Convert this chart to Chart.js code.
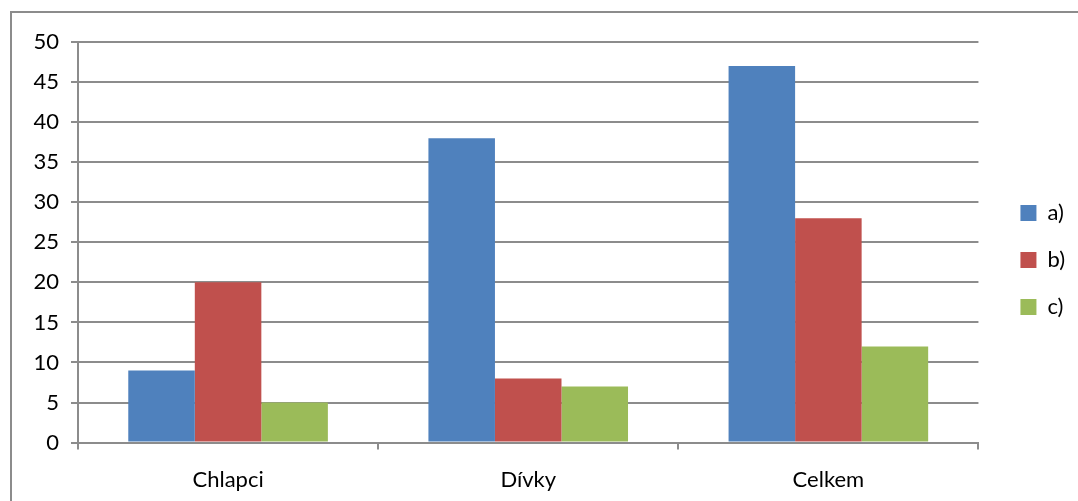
<!DOCTYPE html>
<html>
<head>
<meta charset="utf-8">
<script src="https://cdn.jsdelivr.net/npm/chart.js@4/dist/chart.umd.min.js"></script>
<style>
  html, body { margin: 0; padding: 0; background: #fff; overflow: hidden; }
  #wrap { position: relative; width: 1078px; height: 501px; }
  #frame {
    position: absolute; left: 10px; top: 11px; width: 1200px; height: 700px;
    border: 2px solid #8c8c8c; box-sizing: border-box;
  }
  canvas { position: absolute; left: 0; top: 0; }
</style>
</head>
<body>
<div id="wrap">
  <div id="frame"></div>
  <canvas id="chart" width="1078" height="501"></canvas>
</div>
<script>
// Values
const categories = ["Chlapci", "Dívky", "Celkem"];
const seriesNames = ["a)", "b)", "c)"];
const valuesA = [9, 38, 47];
const valuesB = [20, 8, 28];
const valuesC = [5, 7, 12];
const yTicks = [0, 5, 10, 15, 20, 25, 30, 35, 40, 45, 50];

const COLORS = {
  blue: "#4F81BD",
  red: "#C0504D",
  green: "#9BBB59",
  grid: "#8c8c8c",
  text: "#000000",
};

const FONT = { family: "Lato, 'Open Sans', sans-serif", size: 22 };

// nudge the legend: a bit further from the plot, a bit higher
const legendShift = {
  id: "legendShift",
  afterLayout(chart) {
    const l = chart.legend;
    if (!l) return;
    l.left += 17;
    l.right += 17;
    l.top -= 16;
    l.bottom -= 16;
  },
};

new Chart(document.getElementById("chart"), {
  type: "bar",
  data: {
    labels: categories,
    datasets: [
      { label: seriesNames[0], data: valuesA, backgroundColor: COLORS.blue },
      { label: seriesNames[1], data: valuesB, backgroundColor: COLORS.red },
      { label: seriesNames[2], data: valuesC, backgroundColor: COLORS.green },
    ],
  },
  plugins: [legendShift],
  options: {
    responsive: false,
    animation: false,
    layout: { padding: { left: 20, top: 42, right: 20, bottom: -9 } },
    datasets: {
      bar: { categoryPercentage: 0.665, barPercentage: 1, borderWidth: 0 },
    },
    scales: {
      x: {
        offset: true,
        grid: {
          offset: true,
          drawOnChartArea: false,
          drawTicks: true,
          tickLength: 7,
          color: COLORS.grid,
          lineWidth: 2,
        },
        border: { color: COLORS.grid, width: 2 },
        ticks: { color: COLORS.text, font: FONT, padding: 17 },
      },
      y: {
        min: 0,
        max: 50,
        afterBuildTicks: (axis) => { axis.ticks = yTicks.map((v) => ({ value: v })); },
        afterFit: (axis) => { axis.width = 58; },
        grid: { color: COLORS.grid, lineWidth: 2, tickLength: 7, drawTicks: true },
        border: { color: COLORS.grid, width: 2 },
        ticks: { color: COLORS.text, font: FONT, padding: 12 },
      },
    },
    plugins: {
      legend: {
        position: "right",
        labels: {
          color: COLORS.text,
          font: FONT,
          boxWidth: 16,
          boxHeight: 16,
          padding: 25,
        },
      },
      tooltip: { enabled: false },
    },
  },
});
</script>
</body>
</html>
